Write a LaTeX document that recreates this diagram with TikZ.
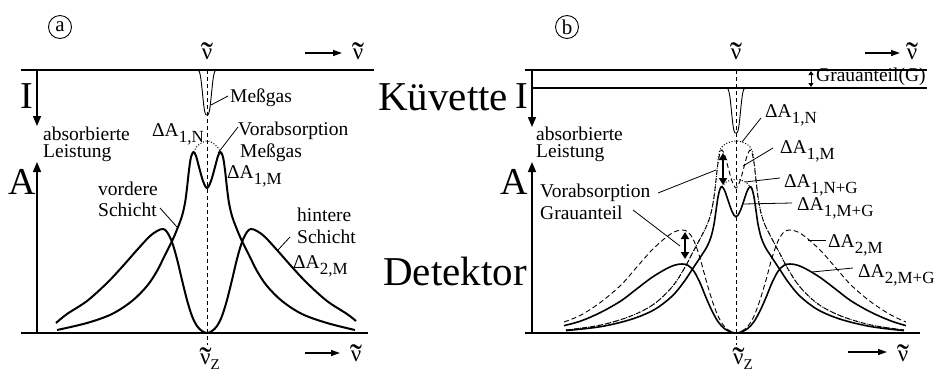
\documentclass[tikz,border=0pt]{standalone}
\usepackage{graphicx}
\usepackage{fontspec}
\setmainfont{Liberation Serif}
\usetikzlibrary{arrows.meta}
\newcommand\fs[1]{\fontsize{#1}{#1}\selectfont}
\newsavebox\tbox
\newcommand\tnu{\leavevmode\sbox\tbox{\scalebox{1.6}[1.6]{˜}}\ooalign{ν\cr\hidewidth\raisebox{\dimexpr0.73em-\ht\tbox\relax}{\usebox\tbox}\hidewidth\cr}}
\newcommand\dA[1]{ΔA\raisebox{-6pt}{\fs{17}#1}}
\begin{document}
\begin{tikzpicture}[x=1pt,y=-1pt,
  lbl/.style={inner sep=0pt, anchor=base west, font=\fs{19.5}},
  bigtxt/.style={inner sep=0pt, anchor=base west, font=\fs{41}},
  axtxt/.style={inner sep=0pt, anchor=base, font=\fs{38}},
  nutxt/.style={inner sep=0pt, anchor=base, font=\fs{23}},
  axisline/.style={line width=2.2pt},
  specA/.style={line width=2pt, line join=round},
  specB/.style={line width=1.6pt, line join=round},
  dashcurve/.style={line width=0.9pt, dash pattern=on 5pt off 3pt},
  dotcurve/.style={line width=1pt, dash pattern=on 1pt off 1.8pt},
  centerline/.style={line width=0.9pt, dash pattern=on 4pt off 3pt},
  leader/.style={line width=0.8pt},
  axarr/.style={line width=1.6pt, -{Triangle[length=10pt,width=8pt]}},
  nuarr/.style={line width=1.3pt, -{Triangle[length=9pt,width=6pt]}},
  dblarr/.style={line width=1.8pt, {Triangle[length=7pt,width=8pt]}-{Triangle[length=7pt,width=8pt]}},
  tinyarr/.style={line width=0.9pt, {Triangle[length=4pt,width=5pt]}-{Triangle[length=4pt,width=5pt]}},
  dipline/.style={line width=0.9pt},
  circ/.style={circle, draw, line width=0.9pt, inner sep=0pt, minimum size=23pt, font=\fs{21}}
]
\useasboundingbox (0,0) rectangle (940,376);

% ================= Panel a =================
\node[circ] (ca) at (60,27) {a};
\draw[axisline] (21,70) -- (374,70);
\draw[dipline] plot[domain=-13:13, samples=90] ({207+\x}, {70+45*exp(-(abs(\x)/5.2)^3)});
\draw[centerline] (207,70) -- (207,345);
\node[nutxt] (nua) at (207,59) {\tnu};
\coordinate (ra1) at (305,53); \coordinate (ra2) at (342,53);
\draw[nuarr] (ra1) -- (ra2);
\node[nutxt] (nuar) at (358,59) {\tnu};
\node[axtxt] (Ia) at (27,108) {I};
\coordinate (Ia1) at (37,70); \coordinate (Ia2) at (37,126);
\draw[axarr] (Ia1) -- (Ia2);
\node[lbl] (absa) at (43,140) {absorbierte};
\node[lbl] (leia) at (43,157) {Leistung};
\node[axtxt] (Aa) at (22.5,194) {A};
\coordinate (Aa1) at (37,333); \coordinate (Aa2) at (37,162);
\draw[axarr] (Aa1) -- (Aa2);
\draw[axisline] (21,333) -- (368,333);
\node[inner sep=0pt, anchor=base west, font=\fs{23}] (nuza) at (200,364) {\tnu\raisebox{-5pt}{\fs{15}Z}};
\coordinate (rb1) at (305,353); \coordinate (rb2) at (340,353);
\draw[nuarr] (rb1) -- (rb2);
\node[nutxt] (nuabr) at (356,361) {\tnu};

\begin{scope}[shift={(207,333)},yscale=-1]
\draw[specA] plot[smooth,tension=0.55] coordinates {(-151,10) (-140,19) (-120,32) (-100,50) (-85,66) (-70,83) (-58,96) (-50,102) (-44,104) (-40,101) (-35,91) (-30,74) (-25,53) (-20,33) (-15,17) (-10,7) (-5,2) (0,0) (5,2) (10,7) (15,17) (20,33) (25,53) (30,74) (35,91) (40,101) (44,104) (50,102) (58,96) (70,83) (85,66) (100,50) (120,32) (140,19) (149,12)};
\draw[specA] plot[smooth,tension=0.55] coordinates {(-150,3) (-120,10) (-95,19) (-75,32) (-60,47) (-50,62) (-42,78) (-34,94) (-29,106) (-25,117) (-22,130) (-20,145) (-18,163) (-16,176) (-13.5,181) (-11,177) (-8,166) (-4,152) (0,145) (4,152) (8,166) (11,177) (13.5,181) (16,176) (18,163) (20,145) (22,130) (25,117) (29,106) (34,94) (42,78) (50,62) (60,47) (75,32) (95,19) (120,10) (148,3)};
\draw[dotcurve] plot[smooth] coordinates {(-13.5,181) (-10,186.5) (-5,190.5) (0,192) (5,190.5) (10,186.5) (13.5,181)};
\end{scope}

\node[lbl] (mga) at (230,102) {Meßgas};
\coordinate (mg1) at (211,105); \coordinate (mg2) at (228,96);
\draw[leader] (mg1) -- (mg2);
\node[lbl] (a1na) at (152,136) {\dA{1,N}};
\node[lbl] (vora) at (238,135) {Vorabsorption};
\node[lbl] (mgb) at (240,157) {Meßgas};
\coordinate (va1) at (218,153); \coordinate (va2) at (238,127);
\draw[leader] (va1) -- (va2);
\node[lbl] (a1ma) at (227,178) {\dA{1,M}};
\node[lbl] (vord) at (98,195) {vordere};
\node[lbl] (schv) at (98,216) {Schicht};
\coordinate (vd1) at (160,208); \coordinate (vd2) at (177,227);
\draw[leader] (vd1) -- (vd2);
\node[lbl] (hint) at (297,221) {hintere};
\node[lbl] (schh) at (297,243) {Schicht};
\node[lbl] (a2ma) at (293,268) {\dA{2,M}};
\coordinate (ht1) at (278,250); \coordinate (ht2) at (290,237);
\draw[leader] (ht1) -- (ht2);

\node[bigtxt] (kuev) at (378,110) {Küvette};
\node[bigtxt] (detk) at (383,285) {Detektor};

% ================= Panel b =================
\node[circ] (cb) at (567,27) {b};
\draw[axisline] (525,70) -- (927,70);
\draw[line width=1.3pt] (533,88) -- (927,88);
\draw[dipline] plot[domain=-13:13, samples=90] ({736+\x}, {88+45*exp(-(abs(\x)/5.2)^3)});
\coordinate (g1) at (811,71); \coordinate (g2) at (811,87);
\draw[tinyarr] (g1) -- (g2);
\node[inner sep=0pt, anchor=base west, font=\fs{19.5}] (grg) at (816,81) {Grauanteil(G)};
\draw[centerline] (736,70) -- (736,345);
\node[nutxt] (nub) at (736,59) {\tnu};
\coordinate (rc1) at (865,53); \coordinate (rc2) at (900,53);
\draw[nuarr] (rc1) -- (rc2);
\node[nutxt] (nubr) at (912,59) {\tnu};
\node[axtxt] (Ib) at (522,108) {I};
\coordinate (Ib1) at (532,70); \coordinate (Ib2) at (532,127);
\draw[axarr] (Ib1) -- (Ib2);
\node[lbl] (absb) at (536,140) {absorbierte};
\node[lbl] (leib) at (536,157) {Leistung};
\node[axtxt] (Ab) at (514.5,194) {A};
\coordinate (Ab1) at (532,333); \coordinate (Ab2) at (532,162);
\draw[axarr] (Ab1) -- (Ab2);
\draw[axisline] (525,333) -- (920,333);
\node[inner sep=0pt, anchor=base west, font=\fs{23}] (nuzb) at (733,364) {\tnu\raisebox{-5pt}{\fs{15}Z}};
\coordinate (rd1) at (848,352); \coordinate (rd2) at (887,352);
\draw[nuarr] (rd1) -- (rd2);
\node[nutxt] (nubbr) at (903,361) {\tnu};

\begin{scope}[shift={(736,333)},yscale=-1]
% Delta A_2,M dashed
\draw[dashcurve] plot[smooth,tension=0.55] coordinates {(-172,11) (-155,18) (-135,31) (-115,48) (-100,65) (-85,82) (-72,94) (-62,101) (-54,103) (-48,101) (-42,92) (-36,75) (-30,53) (-24,33) (-18,17) (-12,7) (-6,2) (0,0) (6,2) (12,7) (18,17) (24,33) (30,53) (36,75) (42,92) (48,101) (54,103) (62,101) (72,94) (85,82) (100,65) (115,48) (135,31) (155,18) (170,11)};
% Delta A_1,N dotted envelope
\draw[dotcurve] plot[smooth,tension=0.55] coordinates {(-170,3) (-135,8) (-105,17) (-82,29) (-64,46) (-52,64) (-43,81) (-35,96) (-29,108) (-25,120) (-22,136) (-20,153) (-18,172) (-16,183) (-12,188) (-6,191) (0,192) (6,191) (12,188) (16,183) (18,172) (20,153) (22,136) (25,120) (29,108) (35,96) (43,81) (52,64) (64,46) (82,29) (105,17) (135,8) (168,3)};
% Delta A_1,M dashed
\draw[dashcurve] plot[smooth,tension=0.55] coordinates {(-170,3) (-135,8) (-105,17) (-82,29) (-64,46) (-52,64) (-43,81) (-35,96) (-29,108) (-25,120) (-22,136) (-20,153) (-18,170) (-16,180) (-14,183) (-11,177) (-8,166) (-4,152) (0,145) (4,152) (8,166) (11,177) (14,183) (16,180) (18,170) (20,153) (22,136) (25,120) (29,108) (35,96) (43,81) (52,64) (64,46) (82,29) (105,17) (135,8) (168,3)};
\end{scope}
\begin{scope}[shift={(736,333)},yscale=-0.67]
\draw[specB] plot[smooth,tension=0.55] coordinates {(-172,11) (-155,18) (-135,31) (-115,48) (-100,65) (-85,82) (-72,94) (-62,101) (-54,103) (-48,101) (-42,92) (-36,75) (-30,53) (-24,33) (-18,17) (-12,7) (-6,2) (0,0) (6,2) (12,7) (18,17) (24,33) (30,53) (36,75) (42,92) (48,101) (54,103) (62,101) (72,94) (85,82) (100,65) (115,48) (135,31) (155,18) (170,11)};
\end{scope}
\begin{scope}[shift={(736,333)},yscale=-0.8]
\draw[specB] plot[smooth,tension=0.55] coordinates {(-170,3) (-135,8) (-105,17) (-82,29) (-64,46) (-52,64) (-43,81) (-35,96) (-29,108) (-25,120) (-22,136) (-20,153) (-18,170) (-16,180) (-14,183) (-11,177) (-8,166) (-4,152) (0,145) (4,152) (8,166) (11,177) (14,183) (16,180) (18,170) (20,153) (22,136) (25,120) (29,108) (35,96) (43,81) (52,64) (64,46) (82,29) (105,17) (135,8) (168,3)};
\draw[dotcurve] plot[smooth] coordinates {(-14,183) (-10,188.5) (-5,191) (0,192) (5,191) (10,188.5) (14,183)};
\end{scope}

\coordinate (d1) at (723,153); \coordinate (d2) at (723,185);
\draw[dblarr] (d1) -- (d2);
\coordinate (d3) at (685,232); \coordinate (d4) at (685,259);
\draw[dblarr] (d3) -- (d4);

\node[lbl] (a1nb) at (765,117) {\dA{1,N}};
\coordinate (l1a) at (742,142); \coordinate (l1b) at (761,118);
\draw[leader] (l1a) -- (l1b);
\node[lbl] (a1mb) at (780,153) {\dA{1,M}};
\coordinate (l2a) at (743,166); \coordinate (l2b) at (773,148);
\draw[leader] (l2a) -- (l2b);
\node[lbl] (a1ngb) at (784,187) {\dA{1,N+G}};
\coordinate (l3a) at (745,182); \coordinate (l3b) at (780,178);
\draw[leader] (l3a) -- (l3b);
\node[lbl] (a1mgb) at (797,210) {\dA{1,M+G}};
\coordinate (l4a) at (743,204); \coordinate (l4b) at (792,203);
\draw[leader] (l4a) -- (l4b);
\node[lbl] (a2mb) at (828,247) {\dA{2,M}};
\coordinate (l5a) at (808,240); \coordinate (l5b) at (826,240);
\draw[leader] (l5a) -- (l5b);
\node[lbl] (a2mgb) at (858,277) {\dA{2,M+G}};
\coordinate (l6a) at (812,272); \coordinate (l6b) at (853,268);
\draw[leader] (l6a) -- (l6b);
\node[lbl] (vorb) at (540,197) {Vorabsorption};
\node[lbl] (grb) at (540,219) {Grauanteil};
\coordinate (l7a) at (658,193); \coordinate (l7b) at (716,170);
\draw[leader] (l7a) -- (l7b);
\coordinate (l8a) at (633,210); \coordinate (l8b) at (680,246);
\draw[leader] (l8a) -- (l8b);
\end{tikzpicture}
\end{document}
